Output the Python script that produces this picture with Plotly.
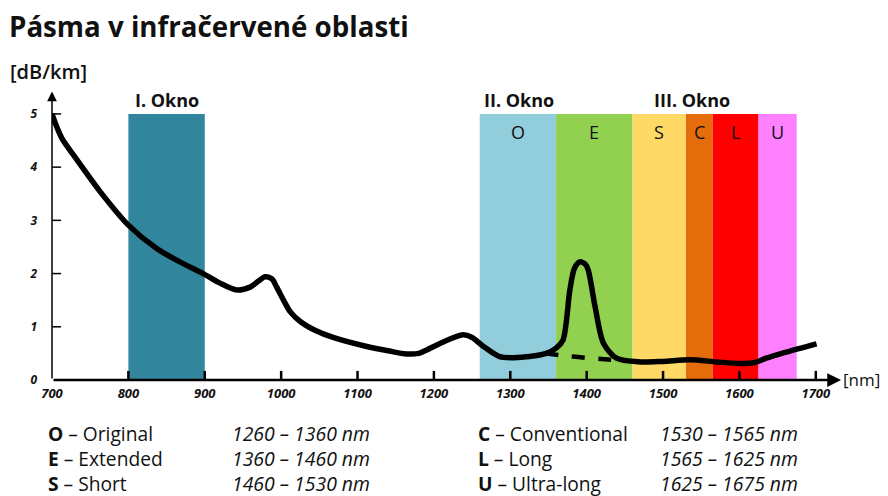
import plotly.graph_objects as go

# ---------------- data ----------------
wl = [700, 705, 713, 728, 763, 800, 837, 870, 898, 920, 942, 960, 979, 988, 994,
      1005, 1012, 1025, 1045, 1068, 1112, 1140, 1164, 1180, 1190, 1210, 1238, 1250,
      1265, 1286, 1304, 1325, 1347, 1360, 1369, 1378, 1384, 1391, 1398, 1402, 1411,
      1422, 1439, 1470, 1500, 1535, 1570, 1601, 1620, 1635, 1660, 1701]
att = [5.0, 4.8, 4.54, 4.23, 3.54, 2.91, 2.47, 2.2, 2.0, 1.82, 1.69, 1.75, 1.94, 1.9, 1.75,
       1.45, 1.28, 1.10, 0.93, 0.80, 0.63, 0.55, 0.49, 0.50, 0.56, 0.70, 0.85, 0.80,
       0.63, 0.44, 0.42, 0.44, 0.50, 0.60, 0.75, 1.69, 2.10, 2.22, 2.18, 2.07, 1.38,
       0.69, 0.41, 0.34, 0.35, 0.38, 0.34, 0.31, 0.33, 0.41, 0.52, 0.68]
dash_wl = [1345, 1382, 1432]
dash_att = [0.50, 0.44, 0.38]

band_names = ["I", "O", "E", "S", "C", "L", "U"]
band_start = [800, 1260, 1360, 1460, 1530, 1565, 1625]
band_end = [900, 1360, 1460, 1530, 1565, 1625, 1675]
band_colors = ["#31859C", "#92CDDC", "#92D050", "#FFD966", "#E46C0A", "#FF0000", "#FF80FF"]
band_top = 5.0

windows = ["I. Okno", "II. Okno", "III. Okno"]
window_pos = [850, 1311, 1538]

x_ticks = [700, 800, 900, 1000, 1100, 1200, 1300, 1400, 1500, 1600, 1700]
y_ticks = [0, 1, 2, 3, 4, 5]

legend_left = [("O", "Original", "1260 – 1360 nm"),
               ("E", "Extended", "1360 – 1460 nm"),
               ("S", "Short", "1460 – 1530 nm")]
legend_right = [("C", "Conventional", "1530 – 1565 nm"),
                ("L", "Long", "1565 – 1625 nm"),
                ("U", "Ultra-long", "1625 – 1675 nm")]

FONT = "Open Sans"
OFF = 8  # page body margin
W, H = 888 - OFF, 496 - OFF
# plot area in screen pixels
SL, ST, SR, SB = 52, 82, 854, 380
L, T = SL - OFF, ST - OFF
R, B = W - (SR - OFF), H - (SB - OFF)
PW, PH = SR - SL, SB - ST


def px(xp):
    return (xp - SL) / PW


def py(yp):
    return (SB - yp) / PH


fig = go.Figure()

# bands
for name, x0, x1, col in zip(band_names, band_start, band_end, band_colors):
    fig.add_shape(type="rect", x0=x0, x1=x1, y0=0, y1=band_top, fillcolor=col,
                  line_width=0, layer="below")
    if name != "I":
        fig.add_annotation(x=(x0 + x1) / 2, y=4.66, text=name, showarrow=False, yanchor="middle",
                           font=dict(family=FONT, size=18, color="#111"))

for txt, xc in zip(windows, window_pos):
    fig.add_annotation(x=xc, y=band_top, yanchor="bottom", yshift=0, text="<b>" + txt + "</b>",
                       showarrow=False, font=dict(family=FONT, size=18, color="#111"))

# curves
fig.add_trace(go.Scatter(x=wl, y=att, mode="lines", line=dict(color="black", width=5.5, shape="spline", smoothing=0.8),
                         hoverinfo="skip", showlegend=False))
fig.add_trace(go.Scatter(x=dash_wl, y=dash_att, mode="lines",
                         line=dict(color="black", width=4.5, dash="dash", shape="spline"),
                         hoverinfo="skip", showlegend=False))

# axes with arrows
fig.add_annotation(x=1733, y=0, ax=700, ay=0, xref="x", yref="y", axref="x", ayref="y",
                   showarrow=True, arrowhead=2, arrowsize=1.1, arrowwidth=2.5, arrowcolor="black", text="")
fig.add_annotation(x=700, y=5.42, ax=700, ay=0, xref="x", yref="y", axref="x", ayref="y",
                   showarrow=True, arrowhead=2, arrowsize=1.3, arrowwidth=1.5, arrowcolor="black", text="")

# tick marks crossing axes
fig.add_trace(go.Scatter(x=x_ticks[1:], y=[0] * (len(x_ticks) - 1), mode="markers",
                         marker=dict(symbol="line-ns-open", size=13, color="black",
                                     line=dict(color="black", width=2.5)),
                         hoverinfo="skip", showlegend=False))
fig.add_trace(go.Scatter(x=[700] * (len(y_ticks) - 1), y=y_ticks[1:], mode="markers",
                         marker=dict(symbol="line-ew-open", size=13, color="black",
                                     line=dict(color="black", width=1.5)),
                         hoverinfo="skip", showlegend=False))

fig.add_annotation(x=px(841), y=py(379), xref="paper", yref="paper", xanchor="left", yanchor="middle",
                   text="[nm]", showarrow=False, font=dict(family=FONT, size=17, color="#111"))
fig.add_annotation(x=px(8), y=py(72), xref="paper", yref="paper", xanchor="left", yanchor="middle",
                   text="[dB/km]", showarrow=False, font=dict(family=FONT, size=20, color="#111", weight=600))

# legend text: one multi-line annotation per column
rows_mid = 458
cols = [(legend_left, 46, 230), (legend_right, 476, 658)]
for items, xw, xr in cols:
    words = "<br>".join("<b>" + a + "</b> – " + b for a, b, _ in items)
    ranges = "<br>".join("<i>" + c + "</i>" for _, _, c in items)
    fig.add_annotation(x=px(xw), y=py(rows_mid), xref="paper", yref="paper", xanchor="left",
                       yanchor="middle", align="left", text=words, showarrow=False,
                       font=dict(family=FONT, size=19.2, color="#111"))
    fig.add_annotation(x=px(xr), y=py(rows_mid), xref="paper", yref="paper", xanchor="left",
                       yanchor="middle", align="left", text=ranges, showarrow=False,
                       font=dict(family=FONT, size=19.4, color="#111"))

fig.update_layout(
    width=W, height=H,
    margin=dict(l=L, r=R, t=T, b=B, autoexpand=False),
    paper_bgcolor="white", plot_bgcolor="white",
    title=dict(text="<b>Pásma v infračervené oblasti</b>", xref="container", x=1 / W, xanchor="left",
               yref="container", y=1 - 10 / H, yanchor="top",
               font=dict(family=FONT, size=27.7, color="#111")),
    xaxis=dict(range=[700, 1750], showgrid=False, zeroline=False, showline=False, automargin=False,
               tickmode="array", tickvals=x_ticks, ticks="", ticklabelstandoff=4,
               tickfont=dict(family=FONT, size=13, color="#111", style="italic", weight="bold")),
    yaxis=dict(range=[0, 5.6], showgrid=False, zeroline=False, showline=False, automargin=False,
               tickmode="array", tickvals=y_ticks, ticks="", ticklabelstandoff=14,
               tickfont=dict(family=FONT, size=12, color="#111", style="italic", weight="bold")),
    showlegend=False,
)

fig.write_html("out.html")
